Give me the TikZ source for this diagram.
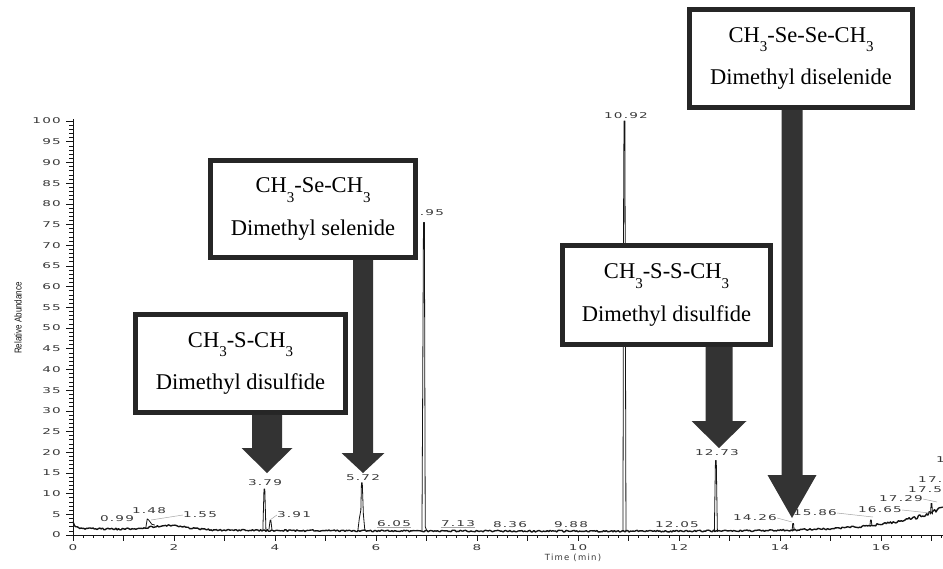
\documentclass[tikz,border=0pt]{standalone}
\usepackage{fontspec}
\setmainfont{Liberation Serif}
\newfontfamily\tickfont[FakeStretch=1.7,LetterSpace=15]{DejaVu Sans}
\newfontfamily\timefont[LetterSpace=15]{DejaVu Sans}
\newfontfamily\ylabfont[FakeStretch=0.8]{Liberation Sans}
\usetikzlibrary{calc}
\definecolor{boxcol}{gray}{0.15}
\definecolor{arrcol}{gray}{0.2}
\definecolor{inkcol}{gray}{0.08}
\definecolor{labcol}{gray}{0.22}
\definecolor{leadcol}{gray}{0.65}
\newcommand\subthree{\raisebox{-0.42em}{\fontsize{15}{15}\selectfont 3}}
\newcommand\fatarrow[5]{\fill[arrowfill] let \p1=(#2), \p2=(#1.south) in
  (\x1-#3pt,\y2) -- (\x1+#3pt,\y2) -- (\x1+#3pt,\y1+#5pt) -- (\x1+#4pt,\y1+#5pt)
  -- (\x1,\y1) -- (\x1-#4pt,\y1+#5pt) -- (\x1-#3pt,\y1+#5pt) -- cycle;}
\newcommand\peak[4]{\draw[peakline] ({#1-#4},#3) -- ({#1-0.008},#2) -- ({#1+0.008},#2) -- ({#1+#4},#3);}
\tikzset{
  cbox/.style={draw=boxcol, line width=4.5pt, fill=white, align=center,
    font=\fontsize{22.5}{42.5}\selectfont, inner sep=0pt},
  arrowfill/.style={fill=arrcol},
  plab/.style={font=\tickfont\fontsize{8}{8}\selectfont, text=labcol, inner sep=0pt},
  ytl/.style={plab, anchor=east},
  xtl/.style={plab},
  axisline/.style={draw=inkcol, line width=0.9pt},
  tickline/.style={draw=inkcol, line width=0.6pt},
  trace/.style={draw=inkcol, line width=1.4pt, line join=round},
  peakline/.style={draw=inkcol, line width=0.8pt, line join=round},
  leader/.style={draw=leadcol, line width=0.5pt},
}
\begin{document}
\begin{tikzpicture}[x=1pt,y=-1pt]
\useasboundingbox (0,0) rectangle (943,568);
\clip (0,0) rectangle (943,568);
\fill[white] (0,0) rectangle (943,568);

% ---------- axes ----------
\draw[axisline] (73,119) coordinate (ytop) -- (73,535) coordinate (orig) -- (943,535) coordinate (xend);
\foreach \v in {0,...,100} \draw[tickline] (69,{535-4.14*\v}) -- (73,{535-4.14*\v});
\foreach \v in {0,5,...,100} {
  \draw[tickline] (66,{535-4.14*\v}) -- (73,{535-4.14*\v});
  \node[ytl] (yl\v) at (61,{535-4.14*\v}) {\v};
}
\foreach \i in {0,...,86} \draw[tickline] ({73+50.5*0.2*\i},535) -- ({73+50.5*0.2*\i},538);
\foreach \i in {0,...,17} \draw[tickline] ({73+50.5*\i},535) -- ({73+50.5*\i},541);
\foreach \i in {0,2,...,16} \node[xtl] (xl\i) at ({73+50.5*\i},548) {\i};
\node[font=\timefont\fontsize{8.5}{8.5}\selectfont, text=labcol, inner sep=0pt] (tlab) at (573,558) {Time (min)};
\node[rotate=90, font=\ylabfont\fontsize{10}{10}\selectfont, text=inkcol, inner sep=0pt] (ylab) at (18,318) {Relative Abundance};

% ---------- chromatogram ----------
\pgfmathsetseed{7}
\begin{scope}[shift={(73,535)}, x=50.5pt, y=4.14pt,
  declare function={bl(\t)=0.9+0.7*exp(-\t/3)+1.6*exp(max(-25*\t,-15))+1.0*exp(max(-((\t-1.9)/0.5)^2,-15))+5.8*exp(max((\t-17.23)/1.0,-15));
                    nz(\t)=0.2+0.35*exp(max((\t-17.2)/1.0,-15));}]
  \draw[trace] plot[domain=0:17.23, samples=650, variable=\t] (\t,{bl(\t)+nz(\t)*rand});
  \draw[peakline] (1.44,1.6) -- (1.47,3.9) -- (1.50,3.6) -- (1.56,2.6) -- (1.62,2.4);
  \peak{3.79}{11.1}{1.3}{0.03}
  \peak{3.91}{3.5}{1.3}{0.03}
  \draw[peakline] (5.64,1) -- (5.67,4) -- (5.70,6) -- (5.712,12.6) -- (5.728,12.6) -- (5.75,5) -- (5.78,1);
  \draw[peakline] (6.91,1) -- (6.925,36) -- (6.94,75.5) -- (6.958,75.5) -- (6.975,2) -- (7.0,1.2);
  \draw[peakline] (10.89,0.9) -- (10.905,88) -- (10.912,100) -- (10.928,100) -- (10.95,0.9);
  \peak{12.73}{18}{0.9}{0.03}
  \peak{14.26}{2.8}{1.0}{0.02}
  \peak{15.80}{3.6}{2.2}{0.02}
  \peak{17.00}{7.6}{5.0}{0.02}
\end{scope}

% ---------- peak labels ----------
\node[plab] (p099) at (117,519) {0.99};
\node[plab] (p148) at (149,511) {1.48};
\node[plab] (p155) at (200,515) {1.55};
\node[plab] (p379) at (265,483) {3.79};
\node[plab] (p391) at (294,515) {3.91};
\node[plab] (p572) at (363,478) {5.72};
\node[plab] (p605) at (394,524) {6.05};
\node[plab] (p695) at (427,213) {6.95};
\node[plab] (p713) at (458,524) {7.13};
\node[plab] (p836) at (510,525) {8.36};
\node[plab] (p988) at (571,525) {9.88};
\node[plab] (p1092) at (626,116) {10.92};
\node[plab] (p1205) at (677,525) {12.05};
\node[plab] (p1273) at (717,453) {12.73};
\node[plab] (p1426) at (755,518) {14.26};
\node[plab] (p1586) at (815,513) {15.86};
\node[plab] (p1665) at (880,510) {16.65};
\node[plab] (p1729) at (901,499) {17.29};
\node[plab, anchor=west] (p175) at (908,490) {17.5};
\node[plab, anchor=west] (p17x) at (918,480) {17.};
\node[plab, anchor=west] (p1x) at (936,460) {1};

\coordinate (c155) at (151,520);
\coordinate (c391) at (270,520);
\coordinate (c1426) at (792,522);
\coordinate (c1586) at (873,517);
\coordinate (c1665) at (930,513);
\coordinate (c1729) at (937,502);
\draw[leader] (c155) -- (p155.west);
\draw[leader] (c391) -- (p391.west);
\draw[leader] (p605.south west) -- (p605.south east);
\draw[leader] (p713.south west) -- (p713.south east);
\draw[leader] (p1426.east) -- (c1426);
\draw[leader] (p1586.east) -- (c1586);
\draw[leader] (p1665.east) -- (c1665);
\draw[leader] (p1729.east) -- (c1729);

% ---------- boxes ----------
\node[cbox, minimum width=210pt, minimum height=98pt] (b1) at (240.5,363.5)
  {CH\subthree-S-CH\subthree\\Dimethyl disulfide};
\node[cbox, minimum width=205pt, minimum height=97pt] (b2) at (313,209)
  {CH\subthree-Se-CH\subthree\\Dimethyl selenide};
\node[cbox, minimum width=208pt, minimum height=99pt] (b3) at (666.5,295)
  {CH\subthree-S-S-CH\subthree\\Dimethyl disulfide};
\node[cbox, minimum width=223pt, minimum height=98pt] (b4) at (801,58.5)
  {CH\subthree-Se-Se-CH\subthree\\Dimethyl diselenide};

% ---------- arrows ----------
\coordinate (t1) at (267,473);
\coordinate (t2) at (363,473);
\coordinate (t3) at (719,448);
\coordinate (t4) at (792,518);
\fatarrow{b1}{t1}{15}{25.5}{25}
\fatarrow{b2}{t2}{10}{21.5}{20}
\fatarrow{b3}{t3}{13.5}{27.5}{27}
\fatarrow{b4}{t4}{10.5}{24.5}{43}
\end{tikzpicture}
\end{document}
